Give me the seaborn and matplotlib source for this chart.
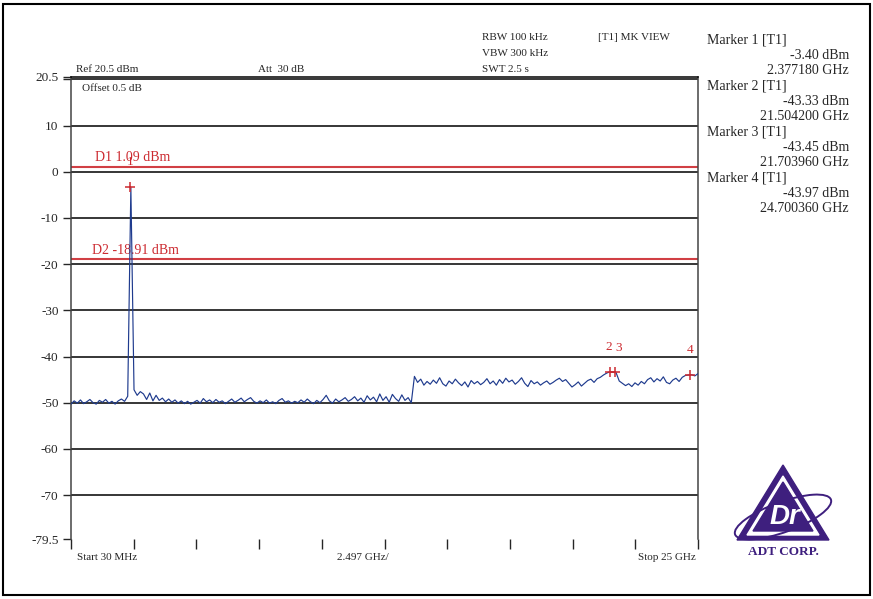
import numpy as np
import pandas as pd
import matplotlib
matplotlib.use('Agg')
import matplotlib.pyplot as plt
from matplotlib.patches import Polygon, Ellipse, Rectangle
import seaborn as sns

sns.set_style('white')
plt.rcParams['font.family'] = ['Liberation Serif', 'DejaVu Serif']

# sweep settings
start_ghz = 0.03
stop_ghz = 25.0
div_ghz = 2.497

# trace (dBm), 200 sweep points from start to stop
level_low = [
    -50.3, -49.6, -50.1, -49.4, -50.2, -49.8, -49.3, -50.0, -50.3, -49.5,
    -49.9, -49.3, -50.1, -49.7, -50.3, -49.6, -49.2, -49.7,
    -48.6,
    -3.4,
    -47.2,
    -48.4,
    -47.6, -48.1, -49.3, -47.9, -49.6, -48.4, -49.5, -49.0,
    -49.8, -49.2, -49.9, -49.4, -50.1, -49.6, -50.2, -49.7, -50.3, -49.9,
    -49.5, -50.1, -49.1, -49.8, -49.4, -50.0, -49.3, -49.9, -49.6, -50.2,
    -49.7, -49.2, -49.9, -49.5, -49.0, -49.8, -49.3, -48.9, -49.7, -50.1,
    -49.6, -50.0, -49.4, -50.1, -49.8, -50.2, -49.5, -49.1, -49.9, -49.6,
    -50.1, -49.7, -50.0, -49.4, -49.9, -49.2, -49.8, -50.2, -49.5, -50.0,
    -49.3, -48.4, -49.6, -50.1, -49.2, -49.8, -49.4, -48.9, -49.7, -49.3,
    -48.7, -49.6, -49.0, -49.9, -48.5, -49.4, -48.8, -49.8, -48.1, -49.5,
    -48.7, -49.9, -48.2, -49.1, -49.7, -48.3, -49.5, -48.9, -50.0,
]
level_high = [
    -44.3,
    -45.6, -44.9, -46.2, -45.4, -46.0, -45.1, -45.8, -44.6, -45.9, -46.4,
    -45.3, -45.9, -44.9, -45.7, -46.3, -45.5, -46.6, -45.2, -45.9, -45.4,
    -46.1, -45.6, -44.8, -45.9, -45.3, -46.2, -45.0, -45.8, -44.7, -45.5,
    -45.1, -46.0, -45.4, -44.6, -45.8, -46.5, -45.2, -45.9, -45.5, -46.2,
    -45.7, -45.3, -46.0, -45.6, -45.1, -44.7, -45.4, -45.0, -45.8, -46.6,
    -46.1, -45.5, -46.4, -45.8, -45.2, -44.9, -45.6, -44.8, -44.5, -44.0,
    -43.6, -43.3, -43.4, -43.5, -45.3, -45.8, -46.3, -45.9, -46.5, -45.7,
    -46.2, -45.4, -45.9, -45.0, -44.6, -45.5, -44.8, -45.3, -44.4, -45.6,
    -45.9, -45.1, -44.7, -45.4, -44.5, -44.1, -44.0, -43.95, -44.2, -43.7,
]

# display lines
d1_level = 1.09
d2_level = -18.91

# markers
marker_names = ['1', '2', '3', '4']
marker_freq = [2.377180, 21.504200, 21.703960, 24.700360]
marker_level = [-3.40, -43.33, -43.45, -43.97]

level = level_low + level_high
df = pd.DataFrame({'freq': np.linspace(start_ghz, stop_ghz, len(level)),
                   'level': level})

W, H = 873, 599


def px(x, y):
    return x / W, 1 - y / H


fig = plt.figure(figsize=(W / 100, H / 100), dpi=100)
fig.patches.append(Rectangle((3 / W, 4 / H), 867 / W, 591 / H, transform=fig.transFigure,
                             fill=False, edgecolor='black', linewidth=1.5))

ax = fig.add_axes([71 / W, 1 - 539 / H, 627 / W, 462 / H])

# grid lines every 10 dB
for g in range(20, -80, -10):
    ax.axhline(g, color='black', linewidth=1.1, zorder=1)

red = '#cc2a30'
ax.axhline(d1_level, color=red, linewidth=1.5, alpha=0.9, zorder=2)
ax.axhline(d2_level, color=red, linewidth=1.5, alpha=0.9, zorder=2)
ax.text(0.98, d1_level + 0.5, 'D1 1.09 dBm', color=red, fontsize=10, va='bottom')
ax.text(0.86, d2_level + 0.5, 'D2 -18.91 dBm', color=red, fontsize=10, va='bottom')

sns.lineplot(data=df, x='freq', y='level', color='#1f3b8e', linewidth=0.85,
             sort=False, ax=ax, zorder=3)

sns.scatterplot(x=marker_freq, y=marker_level, marker='+', color=red, s=60,
                linewidth=1.1, ax=ax, zorder=4)
for name, f, lv in zip(marker_names, marker_freq, marker_level):
    dx = -0.06 if name == '2' else (0.14 if name == '3' else 0)
    ax.text(f + dx, lv + 5.4, name, color=red, fontsize=9.5, ha='center', va='center')

ax.set_xlim(start_ghz, stop_ghz)
ax.set_ylim(-79.5, 20.5)
ax.set_xticks([start_ghz + k * div_ghz for k in range(11)])
ax.set_xticklabels([])
ax.set_yticks([20.5, 10, 0, -10, -20, -30, -40, -50, -60, -70, -79.5])
ax.set_yticklabels(['20.5', '10', '0', '-10', '-20', '-30', '-40', '-50', '-60', '-70', '-79.5'])
ax.set_yticks([20], minor=True)
ax.tick_params(axis='y', which='both', direction='out', length=6, width=1, labelsize=9.5, pad=3,
               left=True)
ax.tick_params(axis='x', direction='out', length=7, width=1, bottom=True)
ax.set_xlabel('')
ax.set_ylabel('')
for side in ['left', 'right', 'top']:
    ax.spines[side].set_color('#444444')
    ax.spines[side].set_linewidth(1.1)
ax.spines['top'].set_color('black')
ax.spines['bottom'].set_visible(False)

fs = 8
ax.text(0.018, 0.985, 'Offset 0.5 dB', transform=ax.transAxes, fontsize=fs, va='top')
fig.text(*px(76, 69), 'Ref 20.5 dBm', fontsize=fs, va='center')
fig.text(*px(258, 69), 'Att  30 dB', fontsize=fs, va='center')
fig.text(*px(482, 38), 'RBW 100 kHz', fontsize=fs, va='center')
fig.text(*px(482, 53), 'VBW 300 kHz', fontsize=fs, va='center')
fig.text(*px(482, 69), 'SWT 2.5 s', fontsize=fs, va='center')
fig.text(*px(598, 37), '[T1] MK VIEW', fontsize=fs, va='center')
fig.text(*px(77, 558), 'Start 30 MHz', fontsize=fs, va='center')
fig.text(*px(363, 558), '2.497 GHz/', fontsize=fs, va='center', ha='center')
fig.text(*px(696, 558), 'Stop 25 GHz', fontsize=fs, va='center', ha='right')

# marker table on the right
fm = 10
y0 = 40
for i, (f, lv) in enumerate(zip(marker_freq, marker_level)):
    fig.text(*px(707, y0 + i * 46), 'Marker %d [T1]' % (i + 1), fontsize=fm, va='center')
    fig.text(*px(849, y0 + 15.5 + i * 46), '%.2f dBm' % lv, fontsize=fm, va='center', ha='right')
    fig.text(*px(849, y0 + 31 + i * 46), '%.6f GHz' % f, fontsize=fm, va='center', ha='right')

# ADT CORP logo
lg = fig.add_axes([728 / W, 1 - 562 / H, 114 / W, 104 / H])
lg.set_xlim(0, 114)
lg.set_ylim(0, 104)
lg.axis('off')
purple = '#3e1f7e'
lg.add_patch(Polygon([[55, 97], [9, 22], [101, 22]], closed=True, facecolor=purple, edgecolor=purple))
lg.add_patch(Polygon([[55, 86], [19, 27], [91, 27]], closed=True, facecolor='white', edgecolor='white'))
lg.add_patch(Polygon([[55, 80], [25, 31], [85, 31]], closed=True, facecolor=purple, edgecolor=purple))
lg.add_patch(Ellipse((55, 45), 102, 30, angle=20, fill=False, edgecolor=purple, linewidth=1.4))
lg.text(57, 45, 'Dr', fontsize=20, fontweight='bold', fontstyle='italic', color='white',
        ha='center', va='center', family=['Liberation Sans', 'DejaVu Sans'])
lg.text(55, 10, 'ADT CORP.', fontsize=9.5, fontweight='bold', color=purple, ha='center', va='center')

fig.savefig('out.png', dpi=100)
